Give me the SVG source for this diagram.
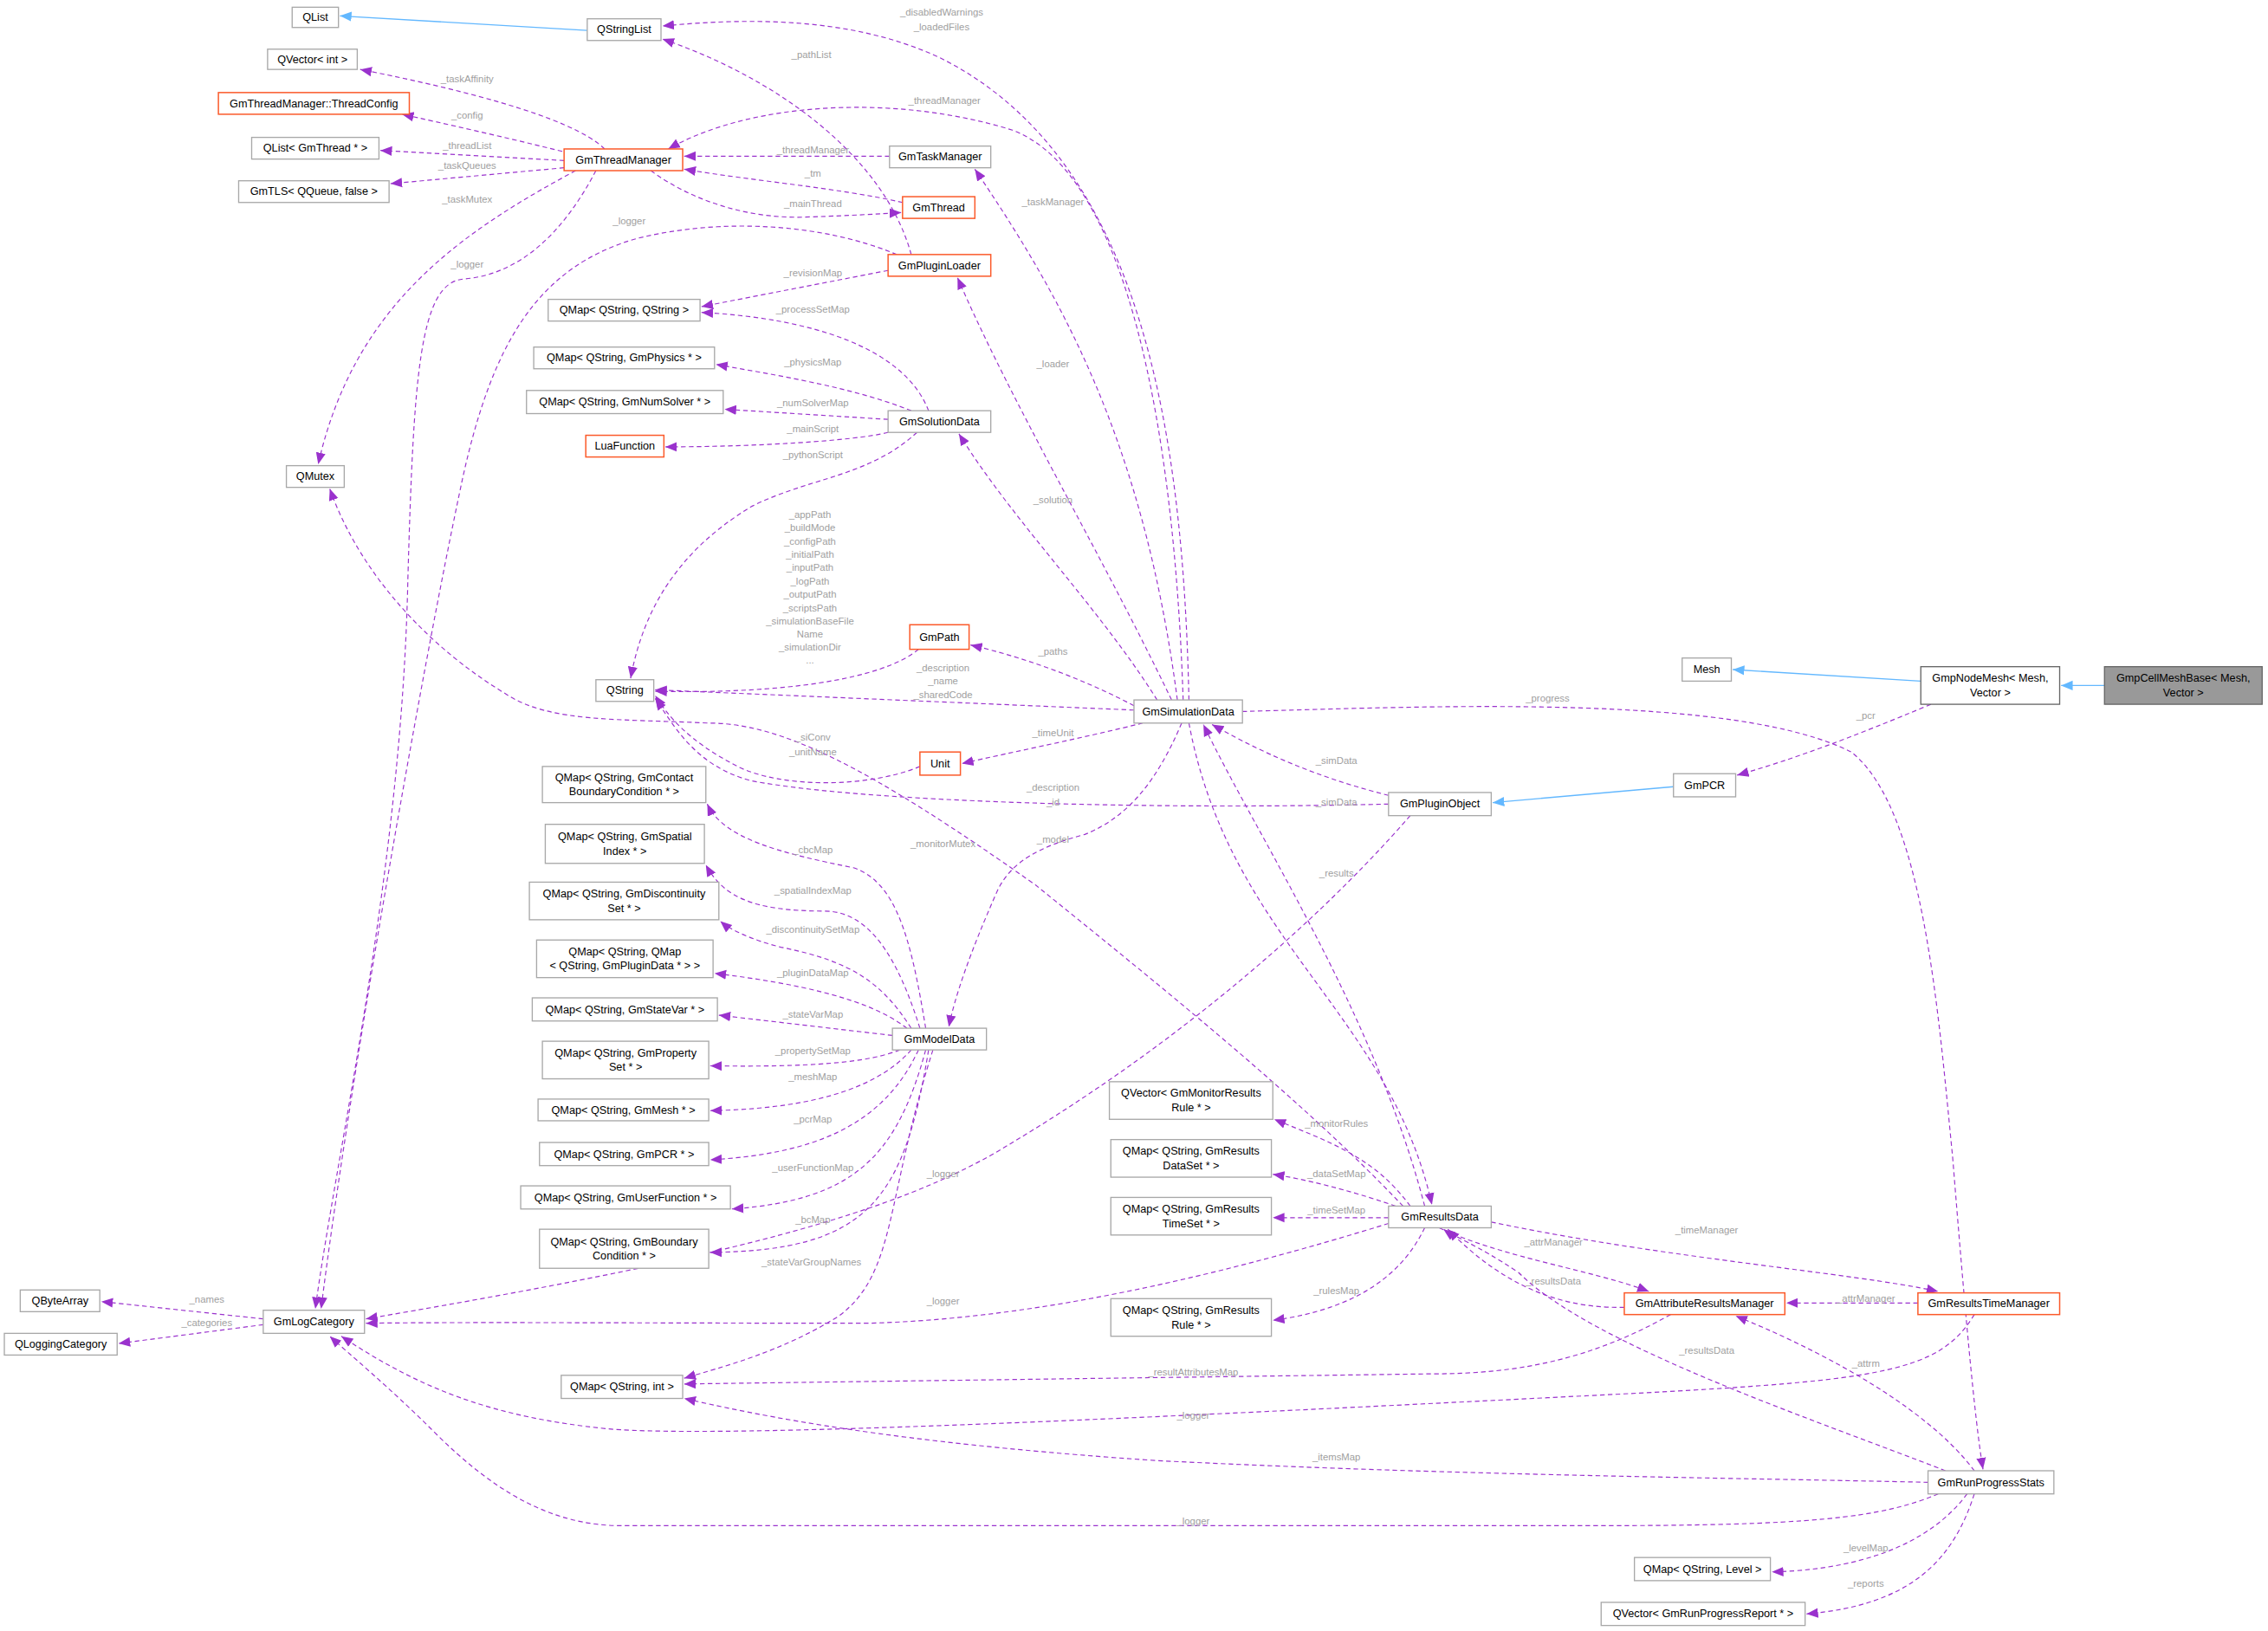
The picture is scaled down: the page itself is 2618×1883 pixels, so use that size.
<svg xmlns="http://www.w3.org/2000/svg" width="2618" height="1883" viewBox="0 0 2618 1883">
<style>
.b{fill:#fff;stroke:#a8a8a8;stroke-width:0.8}
.o{fill:#fff;stroke:#fb5a2a;stroke-width:0.9}
.g{fill:#999;stroke:#666;stroke-width:0.8}
.n{font-family:"Liberation Sans",Arial,sans-serif;font-size:7.6px;fill:#000;text-anchor:middle}
.l{font-family:"Liberation Sans",Arial,sans-serif;font-size:6.8px;fill:#a0a0a0;text-anchor:middle}
.e{fill:none;stroke:#9a32cd;stroke-width:0.7;stroke-dasharray:3.2,2.2}
.i{fill:none;stroke:#63b8ff;stroke-width:0.8}
</style>
<defs>
<marker id="pa" markerUnits="userSpaceOnUse" markerWidth="8" markerHeight="8" refX="6" refY="3" orient="auto" viewBox="0 0 6 6"><path d="M0,0.5 L6,3 L0,5.5 z" fill="#9a32cd"/></marker>
<marker id="ba" markerUnits="userSpaceOnUse" markerWidth="8" markerHeight="8" refX="6" refY="3" orient="auto" viewBox="0 0 6 6"><path d="M0,0.5 L6,3 L0,5.5 z" fill="#63b8ff"/></marker>
</defs>
<rect width="2618" height="1883" fill="#fff"/>
<g transform="scale(1.6696)">
<g id="edges">
<path class="i" marker-end="url(#ba)" d="M406,21 L235,11"/>
<path class="i" marker-end="url(#ba)" d="M1328,471 L1198,463"/>
<path class="i" marker-end="url(#ba)" d="M1455,474 L1425,474"/>
<path class="i" marker-end="url(#ba)" d="M1157,544 L1032,555"/>
<path class="e" marker-end="url(#pa)" d="M822,484 C818,300 790,110 650,40 C590,12 520,12 458,18"/>
<path class="e" marker-end="url(#pa)" d="M630,176 C612,110 540,55 458,27"/>
<path class="e" marker-end="url(#pa)" d="M418,103 C395,80 310,60 249,48"/>
<path class="e" marker-end="url(#pa)" d="M394,106 C350,95 305,85 278,79"/>
<path class="e" marker-end="url(#pa)" d="M390,111 L263,104"/>
<path class="e" marker-end="url(#pa)" d="M390,116 L270,127"/>
<path class="e" marker-end="url(#pa)" d="M398,118 C320,160 245,210 220,321"/>
<path class="e" marker-end="url(#pa)" d="M412,118 C390,160 360,190 320,193 C290,196 286,260 282,400 C278,600 232,800 218,905"/>
<path class="e" marker-end="url(#pa)" d="M620,176 C570,155 500,150 440,165 C370,185 340,240 320,330 C290,470 240,760 222,905"/>
<path class="e" marker-end="url(#pa)" d="M615,108 L473,108"/>
<path class="e" marker-end="url(#pa)" d="M624,140 C580,130 520,125 473,117"/>
<path class="e" marker-end="url(#pa)" d="M450,118 C480,140 520,152 560,150 C590,149 605,148 623,147"/>
<path class="e" marker-end="url(#pa)" d="M818,484 C812,300 780,120 700,90 C620,65 520,70 462,103"/>
<path class="e" marker-end="url(#pa)" d="M814,484 C790,300 730,200 674,117"/>
<path class="e" marker-end="url(#pa)" d="M810,484 C760,380 700,280 662,192"/>
<path class="e" marker-end="url(#pa)" d="M614,187 L485,212"/>
<path class="e" marker-end="url(#pa)" d="M642,284 C625,240 560,220 485,216"/>
<path class="e" marker-end="url(#pa)" d="M630,284 C590,268 540,260 495,252"/>
<path class="e" marker-end="url(#pa)" d="M614,290 L501,283"/>
<path class="e" marker-end="url(#pa)" d="M614,299 C590,305 520,309 460,309"/>
<path class="e" marker-end="url(#pa)" d="M634,299 C600,330 560,330 520,350 C470,380 445,420 436,469"/>
<path class="e" marker-end="url(#pa)" d="M800,484 C760,420 700,360 663,300"/>
<path class="e" marker-end="url(#pa)" d="M635,449 C610,470 540,480 453,478"/>
<path class="e" marker-end="url(#pa)" d="M784,491 L453,477"/>
<path class="e" marker-end="url(#pa)" d="M784,488 C750,470 710,455 671,446"/>
<path class="e" marker-end="url(#pa)" d="M790,500 C750,510 700,520 665,528"/>
<path class="e" marker-end="url(#pa)" d="M636,530 C600,545 540,545 510,530 C475,512 462,495 453,481"/>
<path class="e" marker-end="url(#pa)" d="M960,556 C800,560 600,555 520,540 C480,530 465,500 453,483"/>
<path class="e" marker-end="url(#pa)" d="M960,550 C920,540 880,525 838,501"/>
<path class="e" marker-end="url(#pa)" d="M985,834 C950,700 870,580 832,501"/>
<path class="e" marker-end="url(#pa)" d="M822,500 C850,650 960,700 990,833"/>
<path class="e" marker-end="url(#pa)" d="M975,564 C900,650 800,730 700,790 C620,840 500,870 253,912"/>
<path class="e" marker-end="url(#pa)" d="M960,846 C850,880 720,912 600,915 C450,915 330,914 253,915"/>
<path class="e" marker-end="url(#pa)" d="M970,834 C900,760 800,680 716,612 C600,530 540,500 490,500 C430,497 380,500 350,480 C300,450 250,400 228,338"/>
<path class="e" marker-end="url(#pa)" d="M817,500 C800,540 780,565 750,577 C720,585 700,595 690,615 C670,660 660,690 656,710"/>
<path class="e" marker-end="url(#pa)" d="M640,711 C630,650 620,610 590,600 C540,590 500,580 489,556"/>
<path class="e" marker-end="url(#pa)" d="M636,711 C620,660 600,630 570,630 C520,630 500,620 488,598"/>
<path class="e" marker-end="url(#pa)" d="M630,711 C610,680 590,665 540,655 C520,650 505,643 498,637"/>
<path class="e" marker-end="url(#pa)" d="M627,711 C600,690 550,680 494,673"/>
<path class="e" marker-end="url(#pa)" d="M617,716 L497,702"/>
<path class="e" marker-end="url(#pa)" d="M622,726 C600,735 560,738 491,737"/>
<path class="e" marker-end="url(#pa)" d="M630,726 C600,760 540,767 491,768"/>
<path class="e" marker-end="url(#pa)" d="M635,726 C610,780 560,798 491,802"/>
<path class="e" marker-end="url(#pa)" d="M640,726 C620,800 590,830 506,836"/>
<path class="e" marker-end="url(#pa)" d="M642,726 C625,830 600,865 491,866"/>
<path class="e" marker-end="url(#pa)" d="M645,726 C612,830 620,880 580,910 C540,935 500,945 473,953"/>
<path class="e" marker-end="url(#pa)" d="M975,834 C950,800 920,790 881,774"/>
<path class="e" marker-end="url(#pa)" d="M965,834 C930,822 900,815 880,812"/>
<path class="e" marker-end="url(#pa)" d="M960,842 L880,842"/>
<path class="e" marker-end="url(#pa)" d="M985,849 C970,880 940,905 880,913"/>
<path class="e" marker-end="url(#pa)" d="M995,849 C1040,870 1100,878 1140,893"/>
<path class="e" marker-end="url(#pa)" d="M1031,845 C1150,870 1280,880 1340,893"/>
<path class="e" marker-end="url(#pa)" d="M1123,904 C1080,905 1040,890 1001,850"/>
<path class="e" marker-end="url(#pa)" d="M1326,901 L1235,901"/>
<path class="e" marker-end="url(#pa)" d="M1155,909 C1100,940 1050,950 990,950 L473,957"/>
<path class="e" marker-end="url(#pa)" d="M1365,909 C1340,950 1300,955 1100,965 C800,980 500,995 420,988 C340,980 290,960 236,924"/>
<path class="e" marker-end="url(#pa)" d="M1340,1033 C1300,1050 1250,1055 1100,1055 L430,1055 C380,1055 340,1030 300,990 C270,960 240,935 228,924"/>
<path class="e" marker-end="url(#pa)" d="M1333,1025 C1200,1022 1000,1020 800,1010 C650,1000 550,985 473,967"/>
<path class="e" marker-end="url(#pa)" d="M1345,1017 C1250,980 1100,930 1050,880 C1020,860 1005,855 998,850"/>
<path class="e" marker-end="url(#pa)" d="M1365,1017 C1330,970 1250,930 1200,910"/>
<path class="e" marker-end="url(#pa)" d="M859,492 C1000,488 1200,480 1280,520 C1330,560 1340,700 1350,800 C1358,900 1365,980 1371,1016"/>
<path class="e" marker-end="url(#pa)" d="M1360,1033 C1340,1060 1300,1085 1225,1087"/>
<path class="e" marker-end="url(#pa)" d="M1365,1033 C1350,1080 1320,1110 1249,1116"/>
<path class="e" marker-end="url(#pa)" d="M1335,487 C1280,510 1240,525 1201,536"/>
<path class="e" marker-end="url(#pa)" d="M182,912 L70,900"/>
<path class="e" marker-end="url(#pa)" d="M182,916 L82,929"/>
</g>
<g id="labels">
<text class="l" x="651" y="11">_disabledWarnings</text>
<text class="l" x="651" y="21">_loadedFiles</text>
<text class="l" x="561" y="40">_pathList</text>
<text class="l" x="323" y="57">_taskAffinity</text>
<text class="l" x="323" y="82">_config</text>
<text class="l" x="323" y="103">_threadList</text>
<text class="l" x="323" y="117">_taskQueues</text>
<text class="l" x="323" y="140">_taskMutex</text>
<text class="l" x="323" y="185">_logger</text>
<text class="l" x="435" y="155">_logger</text>
<text class="l" x="653" y="72">_threadManager</text>
<text class="l" x="562" y="106">_threadManager</text>
<text class="l" x="562" y="122">_tm</text>
<text class="l" x="562" y="143">_mainThread</text>
<text class="l" x="728" y="142">_taskManager</text>
<text class="l" x="562" y="191">_revisionMap</text>
<text class="l" x="562" y="216">_processSetMap</text>
<text class="l" x="562" y="253">_physicsMap</text>
<text class="l" x="562" y="281">_numSolverMap</text>
<text class="l" x="562" y="299">_mainScript</text>
<text class="l" x="562" y="317">_pythonScript</text>
<text class="l" x="728" y="254">_loader</text>
<text class="l" x="728" y="348">_solution</text>
<text class="l" x="560" y="358">_appPath</text>
<text class="l" x="560" y="367">_buildMode</text>
<text class="l" x="560" y="377">_configPath</text>
<text class="l" x="560" y="386">_initialPath</text>
<text class="l" x="560" y="395">_inputPath</text>
<text class="l" x="560" y="404">_logPath</text>
<text class="l" x="560" y="413">_outputPath</text>
<text class="l" x="560" y="423">_scriptsPath</text>
<text class="l" x="560" y="432">_simulationBaseFile</text>
<text class="l" x="560" y="441">Name</text>
<text class="l" x="560" y="450">_simulationDir</text>
<text class="l" x="560" y="459">...</text>
<text class="l" x="728" y="453">_paths</text>
<text class="l" x="652" y="464">_description</text>
<text class="l" x="652" y="473">_name</text>
<text class="l" x="652" y="483">_sharedCode</text>
<text class="l" x="728" y="509">_timeUnit</text>
<text class="l" x="562" y="512">_siConv</text>
<text class="l" x="562" y="522">_unitName</text>
<text class="l" x="728" y="547">_description</text>
<text class="l" x="728" y="557">_id</text>
<text class="l" x="924" y="528">_simData</text>
<text class="l" x="924" y="557">_simData</text>
<text class="l" x="924" y="606">_results</text>
<text class="l" x="1070" y="485">_progress</text>
<text class="l" x="1290" y="497">_pcr</text>
<text class="l" x="652" y="586">_monitorMutex</text>
<text class="l" x="728" y="583">_model</text>
<text class="l" x="562" y="590">_cbcMap</text>
<text class="l" x="562" y="618">_spatialIndexMap</text>
<text class="l" x="562" y="645">_discontinuitySetMap</text>
<text class="l" x="562" y="675">_pluginDataMap</text>
<text class="l" x="562" y="704">_stateVarMap</text>
<text class="l" x="562" y="729">_propertySetMap</text>
<text class="l" x="562" y="747">_meshMap</text>
<text class="l" x="562" y="776">_pcrMap</text>
<text class="l" x="562" y="810">_userFunctionMap</text>
<text class="l" x="562" y="846">_bcMap</text>
<text class="l" x="561" y="875">_stateVarGroupNames</text>
<text class="l" x="652" y="814">_logger</text>
<text class="l" x="652" y="902">_logger</text>
<text class="l" x="924" y="779">_monitorRules</text>
<text class="l" x="924" y="814">_dataSetMap</text>
<text class="l" x="924" y="839">_timeSetMap</text>
<text class="l" x="924" y="895">_rulesMap</text>
<text class="l" x="1074" y="861">_attrManager</text>
<text class="l" x="1074" y="888">_resultsData</text>
<text class="l" x="1180" y="853">_timeManager</text>
<text class="l" x="1290" y="900">_attrManager</text>
<text class="l" x="825" y="951">_resultAttributesMap</text>
<text class="l" x="1180" y="936">_resultsData</text>
<text class="l" x="1290" y="945">_attrm</text>
<text class="l" x="825" y="981">_logger</text>
<text class="l" x="924" y="1010">_itemsMap</text>
<text class="l" x="825" y="1054">_logger</text>
<text class="l" x="1290" y="1073">_levelMap</text>
<text class="l" x="1290" y="1097">_reports</text>
<text class="l" x="143" y="901">_names</text>
<text class="l" x="143" y="917">_categories</text>
</g>
<g id="QList"><rect class="b" x="202" y="5" width="32" height="14"/><text class="n" x="218" y="14.5">QList</text></g>
<g id="QStringList"><rect class="b" x="406" y="13" width="51" height="15"/><text class="n" x="431.5" y="23">QStringList</text></g>
<g id="QVectorInt"><rect class="b" x="185" y="34" width="62" height="14"/><text class="n" x="216" y="43.5">QVector&lt; int &gt;</text></g>
<g id="ThreadConfig"><rect class="o" x="151" y="64" width="132" height="15"/><text class="n" x="217" y="74">GmThreadManager::ThreadConfig</text></g>
<g id="QListGmThread"><rect class="b" x="174" y="95" width="88" height="15"/><text class="n" x="218" y="105">QList&lt; GmThread * &gt;</text></g>
<g id="GmTLS"><rect class="b" x="165" y="125" width="104" height="15"/><text class="n" x="217" y="135">GmTLS&lt; QQueue, false &gt;</text></g>
<g id="GmThreadManager"><rect class="o" x="390" y="103" width="82" height="15"/><text class="n" x="431" y="113">GmThreadManager</text></g>
<g id="GmTaskManager"><rect class="b" x="615" y="101" width="70" height="15"/><text class="n" x="650" y="111">GmTaskManager</text></g>
<g id="GmThread"><rect class="o" x="624" y="136" width="50" height="15"/><text class="n" x="649" y="146">GmThread</text></g>
<g id="GmPluginLoader"><rect class="o" x="614" y="176" width="71" height="15"/><text class="n" x="649.5" y="186">GmPluginLoader</text></g>
<g id="QMapQStringQString"><rect class="b" x="379" y="207" width="105" height="15"/><text class="n" x="431.5" y="217">QMap&lt; QString, QString &gt;</text></g>
<g id="QMapPhysics"><rect class="b" x="369" y="240" width="125" height="15"/><text class="n" x="431.5" y="250">QMap&lt; QString, GmPhysics * &gt;</text></g>
<g id="QMapNumSolver"><rect class="b" x="364" y="270" width="136" height="16"/><text class="n" x="432" y="280.5">QMap&lt; QString, GmNumSolver * &gt;</text></g>
<g id="LuaFunction"><rect class="o" x="405" y="301" width="54" height="15"/><text class="n" x="432" y="311">LuaFunction</text></g>
<g id="GmSolutionData"><rect class="b" x="614" y="284" width="71" height="15"/><text class="n" x="649.5" y="294">GmSolutionData</text></g>
<g id="QMutex"><rect class="b" x="198" y="322" width="40" height="15"/><text class="n" x="218" y="332">QMutex</text></g>
<g id="GmPath"><rect class="o" x="629" y="432" width="41" height="17"/><text class="n" x="649.5" y="443">GmPath</text></g>
<g id="QString"><rect class="b" x="412" y="470" width="40" height="15"/><text class="n" x="432" y="480">QString</text></g>
<g id="GmSimulationData"><rect class="b" x="784" y="484" width="75" height="16"/><text class="n" x="821.5" y="494.5">GmSimulationData</text></g>
<g id="Unit"><rect class="o" x="636" y="520" width="28" height="16"/><text class="n" x="650" y="530.5">Unit</text></g>
<g id="Mesh"><rect class="b" x="1163" y="455" width="34" height="16"/><text class="n" x="1180" y="465.5">Mesh</text></g>
<g id="GmpNodeMesh"><rect class="b" x="1328" y="461" width="96" height="26" style="stroke:#666"/><text class="n" x="1376" y="471.5">GmpNodeMesh&lt; Mesh,</text><text class="n" x="1376" y="481.5">Vector &gt;</text></g>
<g id="GmpCellMeshBase"><rect class="g" x="1455" y="461" width="109" height="26"/><text class="n" x="1509.5" y="471.5">GmpCellMeshBase&lt; Mesh,</text><text class="n" x="1509.5" y="481.5">Vector &gt;</text></g>
<g id="GmPCR"><rect class="b" x="1157" y="535" width="43" height="16"/><text class="n" x="1178.5" y="545.5">GmPCR</text></g>
<g id="GmPluginObject"><rect class="b" x="960" y="548" width="71" height="16"/><text class="n" x="995.5" y="558.5">GmPluginObject</text></g>
<g id="QMapContact"><rect class="b" x="375" y="530" width="113" height="25"/><text class="n" x="431.5" y="540">QMap&lt; QString, GmContact</text><text class="n" x="431.5" y="550">BoundaryCondition * &gt;</text></g>
<g id="QMapSpatial"><rect class="b" x="377" y="570" width="110" height="27"/><text class="n" x="432" y="581">QMap&lt; QString, GmSpatial</text><text class="n" x="432" y="591">Index * &gt;</text></g>
<g id="QMapDiscontinuity"><rect class="b" x="366" y="610" width="131" height="26"/><text class="n" x="431.5" y="620.5">QMap&lt; QString, GmDiscontinuity</text><text class="n" x="431.5" y="630.5">Set * &gt;</text></g>
<g id="QMapPluginData"><rect class="b" x="371" y="650" width="122" height="26"/><text class="n" x="432" y="660.5">QMap&lt; QString, QMap</text><text class="n" x="432" y="670.5">&lt; QString, GmPluginData * &gt; &gt;</text></g>
<g id="QMapStateVar"><rect class="b" x="368" y="690" width="128" height="16"/><text class="n" x="432" y="700.5">QMap&lt; QString, GmStateVar * &gt;</text></g>
<g id="GmModelData"><rect class="b" x="617" y="711" width="65" height="15"/><text class="n" x="649.5" y="721">GmModelData</text></g>
<g id="QMapProperty"><rect class="b" x="375" y="720" width="115" height="26"/><text class="n" x="432.5" y="730.5">QMap&lt; QString, GmProperty</text><text class="n" x="432.5" y="740.5">Set * &gt;</text></g>
<g id="QMapMesh"><rect class="b" x="372" y="760" width="118" height="15"/><text class="n" x="431" y="770">QMap&lt; QString, GmMesh * &gt;</text></g>
<g id="QMapPCR"><rect class="b" x="373" y="790" width="117" height="16"/><text class="n" x="431.5" y="800.5">QMap&lt; QString, GmPCR * &gt;</text></g>
<g id="QMapUserFunction"><rect class="b" x="360" y="820" width="145" height="16"/><text class="n" x="432.5" y="830.5">QMap&lt; QString, GmUserFunction * &gt;</text></g>
<g id="QMapBoundary"><rect class="b" x="373" y="850" width="117" height="27"/><text class="n" x="431.5" y="861">QMap&lt; QString, GmBoundary</text><text class="n" x="431.5" y="871">Condition * &gt;</text></g>
<g id="QVectorMonitor"><rect class="b" x="767" y="748" width="113" height="26"/><text class="n" x="823.5" y="758.5">QVector&lt; GmMonitorResults</text><text class="n" x="823.5" y="768.5">Rule * &gt;</text></g>
<g id="QMapDataSet"><rect class="b" x="768" y="788" width="111" height="26"/><text class="n" x="823.5" y="798.5">QMap&lt; QString, GmResults</text><text class="n" x="823.5" y="808.5">DataSet * &gt;</text></g>
<g id="QMapTimeSet"><rect class="b" x="768" y="828" width="111" height="26"/><text class="n" x="823.5" y="838.5">QMap&lt; QString, GmResults</text><text class="n" x="823.5" y="848.5">TimeSet * &gt;</text></g>
<g id="GmResultsData"><rect class="b" x="960" y="834" width="71" height="15"/><text class="n" x="995.5" y="844">GmResultsData</text></g>
<g id="QMapRule"><rect class="b" x="768" y="898" width="111" height="26"/><text class="n" x="823.5" y="908.5">QMap&lt; QString, GmResults</text><text class="n" x="823.5" y="918.5">Rule * &gt;</text></g>
<g id="GmAttributeResultsManager"><rect class="o" x="1123" y="894" width="111" height="15"/><text class="n" x="1178.5" y="904">GmAttributeResultsManager</text></g>
<g id="GmResultsTimeManager"><rect class="o" x="1326" y="894" width="98" height="15"/><text class="n" x="1375" y="904">GmResultsTimeManager</text></g>
<g id="QByteArray"><rect class="b" x="14" y="892" width="55" height="15"/><text class="n" x="41.5" y="902">QByteArray</text></g>
<g id="QLoggingCategory"><rect class="b" x="3" y="922" width="78" height="15"/><text class="n" x="42" y="932">QLoggingCategory</text></g>
<g id="GmLogCategory"><rect class="b" x="182" y="906" width="70" height="16"/><text class="n" x="217" y="916.5">GmLogCategory</text></g>
<g id="QMapInt"><rect class="b" x="388" y="951" width="84" height="16"/><text class="n" x="430" y="961.5">QMap&lt; QString, int &gt;</text></g>
<g id="GmRunProgressStats"><rect class="b" x="1333" y="1017" width="87" height="16"/><text class="n" x="1376.5" y="1027.5">GmRunProgressStats</text></g>
<g id="QMapLevel"><rect class="b" x="1130" y="1077" width="94" height="16"/><text class="n" x="1177" y="1087.5">QMap&lt; QString, Level &gt;</text></g>
<g id="QVectorReport"><rect class="b" x="1107" y="1108" width="141" height="16"/><text class="n" x="1177.5" y="1118.5">QVector&lt; GmRunProgressReport * &gt;</text></g>
</g>
</svg>
